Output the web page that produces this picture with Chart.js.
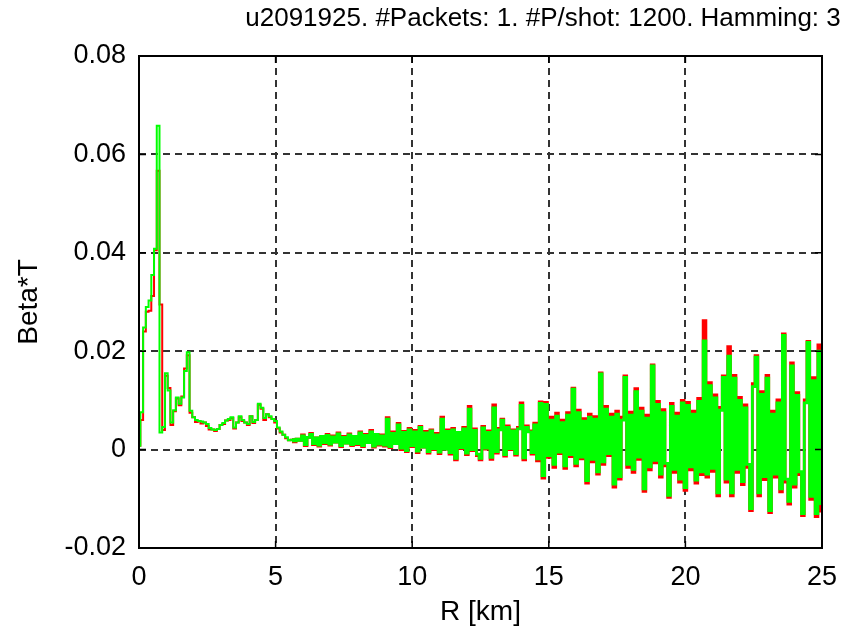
<!DOCTYPE html>
<html>
<head>
<meta charset="utf-8">
<title>Beta*T vs range</title>
<script src="https://cdn.jsdelivr.net/npm/chart.js@4.4.1/dist/chart.umd.min.js"></script>
<style>
  html, body { margin: 0; padding: 0; background: #fff; }
  canvas { display: block; }
</style>
</head>
<body>
<canvas id="betaChart" width="851" height="639"></canvas>
<script>
// samples every 0.1 km, starting at 0 km
const rangeStepKm = 0.1;

const seriesGreen = [
  0.0008, 0.0076, 0.0248, 0.0290, 0.0303, 0.0355, 0.0408, 0.0658, 0.0035, 0.0046,
  0.0155, 0.0120, 0.0055, 0.0080, 0.0106, 0.0093, 0.0106, 0.0160, 0.0198, 0.0079,
  0.0066, 0.0060, 0.0058, 0.0057, 0.0055, 0.0052, 0.0044, 0.0041, 0.0040, 0.0042,
  0.0050, 0.0054, 0.0059, 0.0062, 0.0066, 0.0045, 0.0055, 0.0068, 0.0060, 0.0055,
  0.0052, 0.0068, 0.0056, 0.0060, 0.0093, 0.0085, 0.0064, 0.0072, 0.0068, 0.0062,
  0.0058, 0.0045, 0.0037, 0.0030, 0.0025, 0.0019, 0.0020, 0.0018, 0.0021, 0.0019,
  0.0028, 0.0010, 0.0025, 0.0031, 0.0012, 0.0024, 0.0009, 0.0027, 0.0014, 0.0029,
  0.0011, 0.0026, 0.0015, 0.0032, 0.0008, 0.0025, 0.0013, 0.0030, 0.0010, 0.0027,
  0.0012, 0.0034, 0.0008, 0.0029, 0.0014, 0.0036, 0.0007, 0.0031, 0.0011, 0.0028,
  0.0009, 0.0062, 0.0006, 0.0033, 0.0012, 0.0050, 0.0003, 0.0035, -0.0002, 0.0040,
  0.0008, 0.0036, -0.0003, 0.0045, 0.0005, 0.0034, -0.0004, 0.0038, 0.0002, 0.0030,
  -0.0005, 0.0062, 0.0001, 0.0037, -0.0006, 0.0040, -0.0018, 0.0035, 0.0004, 0.0042,
  -0.0007, 0.0082, 0.0000, 0.0039, -0.0009, -0.0018, 0.0044, 0.0003, 0.0035, -0.0016,
  0.0085, -0.0004, 0.0040, 0.0060, -0.0010, 0.0045, 0.0002, 0.0038, -0.0008, 0.0042,
  0.0090, -0.0017, 0.0045, 0.0036, -0.0006, 0.0050, -0.0019, 0.0094, -0.0053, 0.0092,
  -0.0012, 0.0060, -0.0030, 0.0068, -0.0005, 0.0055, -0.0033, 0.0070, -0.0010, 0.0123,
  -0.0028, 0.0075, -0.0015, 0.0058, -0.0063, 0.0066, -0.0020, 0.0062, -0.0045, 0.0154,
  -0.0025, 0.0082, -0.0008, 0.0066, -0.0070, 0.0072, -0.0055, 0.0060, 0.0147, -0.0030,
  0.0070, -0.0040, 0.0118, -0.0015, 0.0078, -0.0080, 0.0064, -0.0035, 0.0170, -0.0022,
  0.0092, -0.0050, 0.0075, -0.0028, -0.0093, 0.0088, -0.0040, 0.0068, -0.0060, 0.0095,
  -0.0077, 0.0090, -0.0035, 0.0072, -0.0062, 0.0098, -0.0045, 0.0221, -0.0050, 0.0130,
  -0.0038, 0.0105, -0.0088, 0.0080, 0.0147, -0.0060, 0.0190, -0.0088, 0.0145, -0.0040,
  0.0100, -0.0065, 0.0085, -0.0030, -0.0120, 0.0128, 0.0188, -0.0088, 0.0112, -0.0055,
  0.0145, -0.0124, 0.0072, -0.0050, 0.0095, -0.0080, 0.0232, -0.0060, -0.0105, 0.0170,
  -0.0070, 0.0110, -0.0045, -0.0130, 0.0095, 0.0218, -0.0095, 0.0140, -0.0130, 0.0200,
  -0.0110
];

const seriesRed = [
  0.0008, 0.0060, 0.0240, 0.0280, 0.0282, 0.0312, 0.0405, 0.0567, 0.0295, 0.0040,
  0.0150, 0.0125, 0.0050, 0.0078, 0.0104, 0.0090, 0.0108, 0.0165, 0.0192, 0.0075,
  0.0066, 0.0056, 0.0058, 0.0053, 0.0055, 0.0048, 0.0041, 0.0041, 0.0038, 0.0042,
  0.0050, 0.0052, 0.0059, 0.0060, 0.0064, 0.0043, 0.0055, 0.0066, 0.0058, 0.0055,
  0.0050, 0.0068, 0.0054, 0.0060, 0.0091, 0.0083, 0.0060, 0.0072, 0.0066, 0.0062,
  0.0055, 0.0043, 0.0035, 0.0030, 0.0023, 0.0019, 0.0020, 0.0016, 0.0021, 0.0019,
  0.0030, 0.0008, 0.0025, 0.0033, 0.0010, 0.0024, 0.0007, 0.0027, 0.0012, 0.0031,
  0.0009, 0.0028, 0.0015, 0.0034, 0.0006, 0.0027, 0.0013, 0.0032, 0.0008, 0.0027,
  0.0010, 0.0036, 0.0006, 0.0031, 0.0014, 0.0039, 0.0005, 0.0031, 0.0009, 0.0030,
  0.0007, 0.0065, 0.0004, 0.0036, 0.0012, 0.0053, 0.0000, 0.0037, -0.0004, 0.0043,
  0.0006, 0.0039, -0.0006, 0.0047, 0.0005, 0.0037, -0.0007, 0.0040, 0.0000, 0.0033,
  -0.0008, 0.0066, 0.0001, 0.0040, -0.0009, 0.0043, -0.0021, 0.0035, 0.0002, 0.0045,
  -0.0010, 0.0088, -0.0002, 0.0042, -0.0012, -0.0021, 0.0047, 0.0001, 0.0038, -0.0020,
  0.0091, -0.0007, 0.0043, 0.0062, -0.0013, 0.0048, 0.0000, 0.0040, -0.0011, 0.0045,
  0.0095, -0.0021, 0.0048, 0.0038, -0.0009, 0.0054, -0.0023, 0.0097, -0.0058, 0.0096,
  -0.0016, 0.0066, -0.0036, 0.0074, -0.0008, 0.0060, -0.0038, 0.0075, -0.0014, 0.0125,
  -0.0033, 0.0080, -0.0019, 0.0063, -0.0068, 0.0072, -0.0025, 0.0067, -0.0050, 0.0156,
  -0.0030, 0.0088, -0.0012, 0.0072, -0.0076, 0.0078, -0.0060, 0.0066, 0.0150, -0.0036,
  0.0076, -0.0046, 0.0124, -0.0020, 0.0084, -0.0085, 0.0070, -0.0041, 0.0172, -0.0027,
  0.0098, -0.0056, 0.0081, -0.0033, -0.0097, 0.0094, -0.0046, 0.0074, -0.0066, 0.0100,
  -0.0083, 0.0096, -0.0041, 0.0078, -0.0068, 0.0104, -0.0051, 0.0262, -0.0056, 0.0136,
  -0.0044, 0.0111, -0.0094, 0.0086, 0.0150, -0.0066, 0.0209, -0.0094, 0.0151, -0.0046,
  0.0106, -0.0071, 0.0091, -0.0036, -0.0124, 0.0134, 0.0191, -0.0094, 0.0118, -0.0061,
  0.0151, -0.0128, 0.0078, -0.0056, 0.0101, -0.0086, 0.0235, -0.0066, -0.0111, 0.0176,
  -0.0076, 0.0116, -0.0051, -0.0134, 0.0101, 0.0220, -0.0101, 0.0146, -0.0136, 0.0213,
  -0.0125
];

const xTicks = [0, 5, 10, 15, 20, 25];
const yTickLabels = ['-0.02', '0', '0.02', '0.04', '0.06', '0.08'];
const yMin = -0.02, yMax = 0.08, yStep = 0.02;

const titleText = 'u2091925. #Packets: 1. #P/shot: 1200. Hamming: 3';
const fontFamily = '"Liberation Sans", Arial, Helvetica, sans-serif';

function toPoints(values) {
  return values.map((v, i) => ({ x: +(i * rangeStepKm).toFixed(1), y: v }));
}

// past ~5.5 km the trace is a dense comb; a slightly wider pen closes it up
const segmentWidth = { borderWidth: c => (c.p0.parsed.x > 5.5 ? 2.8 : 2) };

// box around the axes plus the inward tick marks, and the title above
const framePlugin = {
  id: 'frame',
  afterDraw(chart) {
    const { ctx, chartArea: a, scales } = chart;
    ctx.save();
    ctx.strokeStyle = '#000';
    ctx.lineWidth = 1.5;
    ctx.setLineDash([]);
    ctx.beginPath();
    xTicks.forEach(t => {
      const px = scales.x.getPixelForValue(t);
      ctx.moveTo(px, a.bottom); ctx.lineTo(px, a.bottom - 7);
      ctx.moveTo(px, a.top); ctx.lineTo(px, a.top + 7);
    });
    yTickLabels.forEach((_, i) => {
      const py = scales.y.getPixelForValue(yMin + i * yStep);
      ctx.moveTo(a.left, py); ctx.lineTo(a.left + 7, py);
      ctx.moveTo(a.right, py); ctx.lineTo(a.right - 7, py);
    });
    ctx.stroke();
    ctx.lineWidth = 2;
    ctx.strokeRect(a.left, a.top, a.right - a.left, a.bottom - a.top);

    ctx.fillStyle = '#000';
    ctx.font = '26px ' + fontFamily;
    ctx.textAlign = 'center';
    ctx.textBaseline = 'middle';
    ctx.fillText(titleText, 543, 19);
    ctx.restore();
  }
};

const ctx = document.getElementById('betaChart').getContext('2d');

new Chart(ctx, {
  type: 'line',
  data: {
    datasets: [
      {
        label: 'green',
        data: toPoints(seriesGreen),
        borderColor: '#00ff00',
        borderWidth: 2,
        segment: segmentWidth,
        stepped: 'middle',
        pointRadius: 0,
        order: 0
      },
      {
        label: 'red',
        data: toPoints(seriesRed),
        borderColor: '#ff0000',
        borderWidth: 2,
        segment: segmentWidth,
        stepped: 'middle',
        pointRadius: 0,
        order: 1
      }
    ]
  },
  options: {
    responsive: false,
    animation: false,
    events: [],
    layout: { padding: { left: 0, right: 29, top: 56, bottom: 0 } },
    plugins: {
      legend: { display: false },
      tooltip: { enabled: false }
    },
    scales: {
      x: {
        type: 'linear',
        min: 0,
        max: 25,
        z: 1,
        afterFit: s => { s.height = 91; },
        afterBuildTicks: s => { s.ticks = xTicks.map(v => ({ value: v })); },
        ticks: {
          color: '#000',
          padding: 13,
          maxRotation: 0,
          font: { family: fontFamily, size: 27 },
          callback: v => String(v)
        },
        grid: { color: '#333', lineWidth: 2, drawTicks: false },
        border: { display: false, dash: [7, 5] },
        title: {
          display: true,
          text: 'R [km]',
          color: '#000',
          font: { family: fontFamily, size: 28 },
          padding: { top: 0, bottom: 10 }
        }
      },
      y: {
        min: yMin,
        max: yMax,
        z: 1,
        afterFit: s => { s.width = 139; },
        afterBuildTicks: s => { s.ticks = yTickLabels.map((_, i) => ({ value: yMin + i * yStep })); },
        ticks: {
          color: '#000',
          padding: 13,
          font: { family: fontFamily, size: 27 },
          callback: v => yTickLabels[Math.round((v - yMin) / yStep)]
        },
        grid: { color: '#333', lineWidth: 2, drawTicks: false },
        border: { display: false, dash: [7, 5] },
        title: {
          display: true,
          text: 'Beta*T',
          color: '#000',
          font: { family: fontFamily, size: 28 },
          padding: { top: 12, bottom: 0 }
        }
      }
    }
  },
  plugins: [framePlugin]
});
</script>
</body>
</html>
